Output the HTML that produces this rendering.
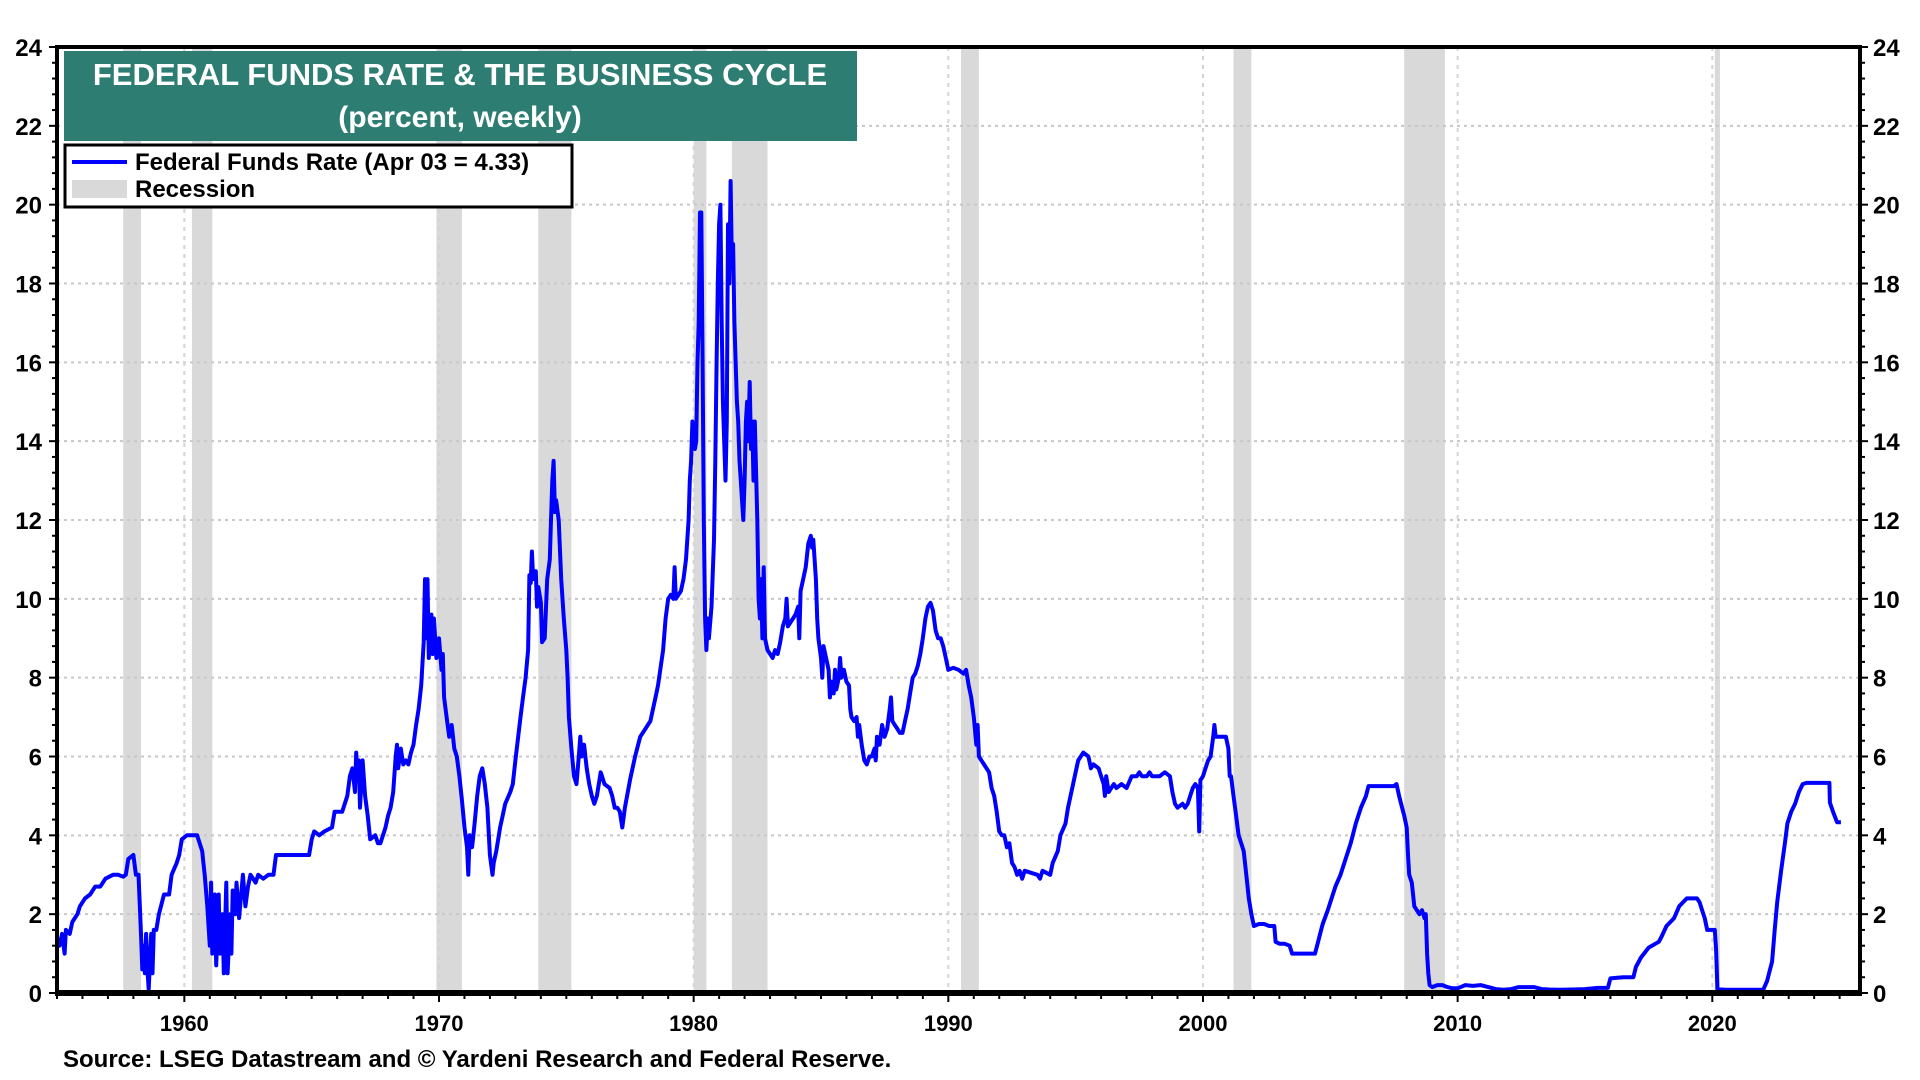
<!DOCTYPE html>
<html><head><meta charset="utf-8"><style>
html,body{margin:0;padding:0;background:#fff;width:1920px;height:1080px;overflow:hidden}
svg text{font-family:"Liberation Sans",Arial,sans-serif;font-weight:bold}
</style></head><body>
<svg id="chart" width="1920" height="1080" xmlns="http://www.w3.org/2000/svg">
<g id="recessions"></g>
<g id="grid"></g>
<g id="series"></g>
<g id="axes"></g>
<g>
<rect x="64" y="51" width="793" height="90" fill="#2e7d72"/>
<text x="460" y="85" text-anchor="middle" font-size="31" fill="#fff">FEDERAL FUNDS RATE &amp; THE BUSINESS CYCLE</text>
<text x="460" y="127" text-anchor="middle" font-size="30" fill="#fff">(percent, weekly)</text>
</g>
<g>
<rect x="65" y="145" width="507" height="62" fill="#fff" stroke="#000" stroke-width="3"/>
<line x1="72" y1="162" x2="127" y2="162" stroke="#0000ff" stroke-width="4"/>
<text x="135" y="170" font-size="24" fill="#000">Federal Funds Rate (Apr 03 = 4.33)</text>
<rect x="72" y="180" width="55" height="18" fill="#d9d9d9"/>
<text x="135" y="197" font-size="24" fill="#000">Recession</text>
</g>
<text x="63" y="1067" font-size="24" fill="#000">Source: LSEG Datastream and © Yardeni Research and Federal Reserve.</text>
</svg>
<script>
const yTicks=[0,2,4,6,8,10,12,14,16,18,20,22,24];
const xTickYears=[1960,1970,1980,1990,2000,2010,2020];
const recStart=[1957.6,1960.3,1969.9,1973.9,1980.0,1981.5,1990.5,2001.2,2007.9,2020.1];
const recEnd=[1958.3,1961.1,1970.9,1975.2,1980.5,1982.9,1991.2,2001.9,2009.5,2020.3];
const years=[1955.0,1955.1,1955.2,1955.3,1955.35,1955.5,1955.6,1955.8,1955.9,1956.1,1956.3,1956.5,1956.7,1956.9,1957.2,1957.4,1957.6,1957.7,1957.8,1958.0,1958.1,1958.2,1958.3,1958.35,1958.4,1958.45,1958.5,1958.55,1958.6,1958.7,1958.75,1958.8,1958.9,1959.0,1959.2,1959.4,1959.5,1959.7,1959.8,1959.9,1960.1,1960.5,1960.7,1960.75,1960.8,1960.9,1961.0,1961.05,1961.1,1961.2,1961.25,1961.35,1961.4,1961.5,1961.55,1961.65,1961.7,1961.8,1961.85,1961.9,1962.0,1962.05,1962.15,1962.3,1962.4,1962.5,1962.6,1962.8,1962.9,1963.1,1963.3,1963.5,1963.6,1964.0,1964.5,1964.9,1965.0,1965.1,1965.3,1965.5,1965.8,1965.9,1966.2,1966.4,1966.5,1966.6,1966.7,1966.75,1966.8,1966.85,1966.9,1967.0,1967.1,1967.2,1967.3,1967.5,1967.6,1967.7,1967.8,1967.9,1968.0,1968.1,1968.2,1968.3,1968.35,1968.4,1968.5,1968.6,1968.7,1968.8,1968.9,1969.0,1969.1,1969.2,1969.3,1969.4,1969.45,1969.5,1969.55,1969.6,1969.7,1969.75,1969.8,1969.9,1970.0,1970.1,1970.15,1970.2,1970.3,1970.4,1970.5,1970.6,1970.7,1970.8,1970.9,1971.0,1971.1,1971.15,1971.2,1971.3,1971.4,1971.5,1971.6,1971.7,1971.8,1971.9,1972.0,1972.1,1972.15,1972.25,1972.4,1972.5,1972.6,1972.8,1972.9,1973.0,1973.2,1973.3,1973.4,1973.5,1973.55,1973.6,1973.65,1973.7,1973.8,1973.85,1973.9,1974.0,1974.05,1974.15,1974.25,1974.35,1974.4,1974.45,1974.5,1974.55,1974.6,1974.7,1974.8,1974.9,1975.0,1975.05,1975.1,1975.2,1975.3,1975.4,1975.5,1975.55,1975.6,1975.7,1975.8,1975.9,1976.0,1976.1,1976.2,1976.35,1976.5,1976.7,1976.8,1976.9,1977.0,1977.1,1977.2,1977.3,1977.5,1977.7,1977.9,1978.1,1978.3,1978.5,1978.6,1978.8,1978.9,1979.0,1979.1,1979.2,1979.25,1979.3,1979.5,1979.6,1979.7,1979.8,1979.85,1979.9,1979.95,1980.0,1980.05,1980.1,1980.15,1980.2,1980.25,1980.3,1980.35,1980.4,1980.45,1980.5,1980.55,1980.6,1980.7,1980.8,1980.85,1980.9,1980.95,1981.0,1981.05,1981.1,1981.15,1981.2,1981.25,1981.3,1981.35,1981.4,1981.45,1981.5,1981.55,1981.6,1981.7,1981.75,1981.8,1981.85,1981.9,1981.95,1982.0,1982.05,1982.1,1982.15,1982.2,1982.25,1982.3,1982.35,1982.4,1982.5,1982.55,1982.6,1982.65,1982.7,1982.75,1982.8,1982.9,1983.0,1983.1,1983.2,1983.3,1983.4,1983.5,1983.6,1983.65,1983.7,1983.8,1983.9,1984.0,1984.1,1984.15,1984.2,1984.3,1984.4,1984.5,1984.6,1984.65,1984.7,1984.8,1984.85,1984.9,1985.0,1985.05,1985.1,1985.2,1985.3,1985.35,1985.4,1985.5,1985.55,1985.6,1985.7,1985.75,1985.8,1985.9,1986.0,1986.1,1986.15,1986.2,1986.3,1986.4,1986.45,1986.5,1986.6,1986.7,1986.8,1986.9,1987.0,1987.1,1987.15,1987.2,1987.3,1987.4,1987.5,1987.6,1987.7,1987.75,1987.8,1987.9,1988.0,1988.1,1988.2,1988.3,1988.4,1988.5,1988.6,1988.7,1988.8,1988.9,1989.0,1989.1,1989.2,1989.3,1989.4,1989.5,1989.6,1989.7,1989.8,1989.9,1990.0,1990.2,1990.4,1990.6,1990.7,1990.8,1990.9,1991.0,1991.1,1991.15,1991.2,1991.3,1991.4,1991.5,1991.6,1991.7,1991.8,1991.9,1992.0,1992.1,1992.2,1992.3,1992.4,1992.5,1992.6,1992.7,1992.8,1992.9,1993.0,1993.5,1993.6,1993.7,1994.0,1994.1,1994.3,1994.4,1994.6,1994.7,1994.9,1995.0,1995.1,1995.3,1995.5,1995.6,1995.7,1995.9,1996.0,1996.1,1996.15,1996.2,1996.3,1996.5,1996.6,1996.8,1997.0,1997.2,1997.4,1997.5,1997.6,1997.8,1997.9,1998.0,1998.3,1998.5,1998.7,1998.8,1998.9,1999.0,1999.2,1999.3,1999.4,1999.5,1999.6,1999.7,1999.8,1999.85,1999.9,2000.0,2000.1,2000.2,2000.3,2000.4,2000.45,2000.5,2000.7,2000.9,2001.0,2001.05,2001.1,2001.2,2001.3,2001.4,2001.5,2001.6,2001.7,2001.8,2001.9,2002.0,2002.2,2002.4,2002.6,2002.8,2002.85,2003.0,2003.2,2003.4,2003.5,2003.8,2004.0,2004.4,2004.5,2004.6,2004.7,2004.9,2005.0,2005.2,2005.4,2005.6,2005.8,2006.0,2006.2,2006.4,2006.5,2007.0,2007.5,2007.6,2007.7,2007.8,2007.9,2008.0,2008.05,2008.1,2008.2,2008.3,2008.5,2008.6,2008.7,2008.75,2008.8,2008.85,2008.9,2009.0,2009.2,2009.4,2009.6,2009.8,2010.0,2010.3,2010.6,2010.9,2011.2,2011.5,2011.8,2012.1,2012.4,2012.7,2013.0,2013.3,2013.6,2014.0,2014.5,2015.0,2015.5,2015.9,2016.0,2016.5,2016.9,2017.0,2017.2,2017.5,2017.9,2018.0,2018.2,2018.5,2018.7,2019.0,2019.4,2019.5,2019.6,2019.7,2019.8,2020.1,2020.15,2020.2,2020.5,2021.0,2021.5,2022.0,2022.15,2022.35,2022.45,2022.55,2022.7,2022.85,2022.95,2023.1,2023.25,2023.4,2023.55,2023.7,2024.0,2024.5,2024.6,2024.62,2024.75,2024.9,2025.05];
const rates=[1.4,1.2,1.5,1.0,1.6,1.5,1.8,2.0,2.2,2.4,2.5,2.7,2.7,2.9,3.0,3.0,2.95,3.0,3.4,3.5,3.0,3.0,1.5,0.6,1.2,0.5,1.5,0.6,0.1,1.5,0.5,1.6,1.6,2.0,2.5,2.5,3.0,3.3,3.5,3.9,4.0,4.0,3.6,3.3,3.0,2.2,1.2,2.8,1.0,2.5,0.7,2.5,1.0,2.0,0.5,2.8,0.5,2.0,1.0,2.6,2.0,2.8,1.9,3.0,2.2,2.7,3.0,2.8,3.0,2.9,3.0,3.0,3.5,3.5,3.5,3.5,3.9,4.1,4.0,4.1,4.2,4.6,4.6,5.0,5.5,5.7,5.1,6.1,5.4,5.9,4.7,5.9,5.0,4.5,3.9,4.0,3.8,3.8,4.0,4.2,4.5,4.7,5.1,6.0,6.3,5.7,6.2,5.8,5.9,5.8,6.1,6.3,6.8,7.2,7.8,8.9,10.5,9.0,10.5,8.5,9.6,8.6,9.5,8.5,9.0,8.2,8.6,7.5,7.0,6.5,6.8,6.2,6.0,5.5,4.9,4.2,3.7,3.0,4.0,3.7,4.3,5.0,5.5,5.7,5.3,4.7,3.5,3.0,3.3,3.6,4.2,4.5,4.8,5.1,5.3,5.9,7.0,7.5,8.0,8.7,10.6,10.4,11.2,10.5,10.7,9.8,10.3,9.9,8.9,9.0,10.5,11.0,12.0,13.0,13.5,12.2,12.5,12.0,10.5,9.5,8.7,8.0,7.0,6.2,5.5,5.3,6.1,6.5,6.0,6.3,5.7,5.3,5.0,4.8,5.0,5.6,5.3,5.2,5.0,4.7,4.7,4.6,4.2,4.7,5.4,6.0,6.5,6.7,6.9,7.5,7.8,8.7,9.5,10.0,10.1,10.0,10.8,10.0,10.2,10.5,11.0,12.0,13.0,13.5,14.5,14.0,13.8,14.0,16.0,17.0,19.8,19.8,16.0,12.0,9.5,8.7,9.5,9.0,9.8,11.5,13.5,16.0,18.0,19.5,20.0,17.0,15.0,14.0,13.0,14.5,19.5,18.0,20.6,18.5,19.0,17.0,15.0,14.5,13.5,13.0,12.5,12.0,13.0,14.5,15.0,14.0,15.5,13.8,14.5,13.0,14.5,12.0,10.0,9.5,10.5,9.0,10.8,9.0,8.7,8.6,8.5,8.7,8.6,8.9,9.3,9.5,10.0,9.3,9.4,9.5,9.6,9.8,9.0,10.2,10.5,10.8,11.4,11.6,11.3,11.5,10.5,9.5,9.0,8.5,8.0,8.8,8.5,8.2,7.5,7.9,7.6,8.2,7.7,8.0,8.5,8.0,8.2,7.9,7.8,7.2,7.0,6.9,7.0,6.5,6.8,6.3,5.9,5.8,6.0,6.0,6.2,5.9,6.5,6.3,6.8,6.5,6.7,7.2,7.5,6.9,6.8,6.7,6.6,6.6,6.9,7.2,7.6,8.0,8.1,8.3,8.6,9.0,9.5,9.8,9.9,9.7,9.2,9.0,9.0,8.8,8.5,8.2,8.25,8.2,8.1,8.2,7.8,7.5,7.0,6.3,6.8,6.0,5.9,5.8,5.7,5.6,5.2,5.0,4.6,4.1,4.0,4.0,3.7,3.8,3.3,3.2,3.0,3.1,2.9,3.1,3.0,2.9,3.1,3.0,3.3,3.6,4.0,4.3,4.7,5.3,5.6,5.9,6.1,6.0,5.7,5.8,5.7,5.5,5.3,5.0,5.5,5.1,5.3,5.2,5.3,5.2,5.5,5.5,5.6,5.5,5.5,5.6,5.5,5.5,5.6,5.5,5.1,4.8,4.7,4.8,4.7,4.8,5.0,5.2,5.3,5.2,4.1,5.4,5.5,5.7,5.9,6.0,6.5,6.8,6.5,6.5,6.5,6.2,5.5,5.5,5.0,4.5,4.0,3.8,3.6,3.0,2.4,2.0,1.7,1.75,1.75,1.7,1.7,1.3,1.25,1.25,1.2,1.0,1.0,1.0,1.0,1.25,1.5,1.75,2.1,2.3,2.7,3.0,3.4,3.8,4.3,4.7,5.0,5.25,5.25,5.25,5.3,5.0,4.75,4.5,4.2,3.5,3.0,2.8,2.2,2.0,2.1,1.9,2.0,1.0,0.5,0.2,0.15,0.2,0.2,0.15,0.12,0.12,0.2,0.18,0.2,0.15,0.1,0.08,0.1,0.15,0.15,0.15,0.1,0.09,0.08,0.09,0.1,0.13,0.13,0.37,0.4,0.4,0.66,0.9,1.15,1.3,1.42,1.7,1.9,2.2,2.4,2.4,2.3,2.1,1.9,1.6,1.6,1.1,0.1,0.08,0.08,0.08,0.08,0.3,0.8,1.6,2.3,3.1,3.8,4.3,4.6,4.8,5.1,5.3,5.33,5.33,5.33,5.33,4.83,4.58,4.33,4.33];

const NS='http://www.w3.org/2000/svg';
const L=57,R=1860,T=47,B=993,X0=1955.0,X1=2025.8,YMAX=24;
function xs(v){return L+(v-X0)/(X1-X0)*(R-L);}
function ys(v){return B-v/YMAX*(B-T);}
function mk(tag,attrs,parent){const e=document.createElementNS(NS,tag);for(const k in attrs)e.setAttribute(k,attrs[k]);parent.appendChild(e);return e;}
const gRec=document.getElementById('recessions'),gGrid=document.getElementById('grid'),gSer=document.getElementById('series'),gAx=document.getElementById('axes');

for(let i=0;i<recStart.length;i++){
  const r=mk('rect',{x:xs(recStart[i]),y:T,width:xs(recEnd[i])-xs(recStart[i]),height:B-T,fill:'#d9d9d9'},gRec);
  
  
}
yTicks.forEach(v=>{
  if(v>0&&v<24){
    const g=mk('line',{x1:L,x2:R,y1:ys(v),y2:ys(v),stroke:'#c8c8c8','stroke-width':2,'stroke-dasharray':'3,4'},gGrid);
    
    
  }
  const tl=mk('text',{x:42,y:ys(v)+9,'text-anchor':'end','font-size':24,fill:'#000'},gAx);
  tl.textContent=v;
  
  
  const tr=mk('text',{x:1873,y:ys(v)+9,'font-size':24,fill:'#000'},gAx);
  tr.textContent=v;
  
  
});
xTickYears.forEach(y=>{
  const g=mk('line',{x1:xs(y),x2:xs(y),y1:T,y2:B,stroke:'#d4d4d4','stroke-width':2,'stroke-dasharray':'4,5'},gGrid);
  
  
  const t=mk('text',{x:xs(y),y:1031,'text-anchor':'middle','font-size':22,fill:'#000'},gAx);
  t.textContent=y;
  
  
});
for(let v=0;v<=24.001;v+=0.4){
  const y=ys(v),big=Math.abs(v-Math.round(v/2)*2)<0.01;
  mk('line',{x1:L-(big?8:5),x2:L,y1:y,y2:y,stroke:'#000','stroke-width':2},gAx);
  mk('line',{x1:R,x2:R+(big?8:5),y1:y,y2:y,stroke:'#000','stroke-width':2},gAx);
}
for(let yr=1955;yr<=2025;yr++){
  const x=xs(yr);
  mk('line',{x1:x,x2:x,y1:B,y2:B+(yr%10===0?9:6),stroke:'#000','stroke-width':2},gAx);
}
let d='';
for(let i=0;i<years.length;i++){d+=(i?'L':'M')+xs(years[i]).toFixed(1)+','+ys(rates[i]).toFixed(1);}
const p=mk('path',{d:d,fill:'none',stroke:'#0000ff','stroke-width':4,'stroke-linejoin':'round'},gSer);


const fr=mk('path',{d:`M${L},${B}L${L},${T}L${R},${T}L${R},${B}`,fill:'none',stroke:'#000','stroke-width':4},gAx);


const xa=mk('line',{x1:L-2,x2:R+2,y1:B,y2:B,stroke:'#000','stroke-width':6},gAx);


</script>
</body></html>
